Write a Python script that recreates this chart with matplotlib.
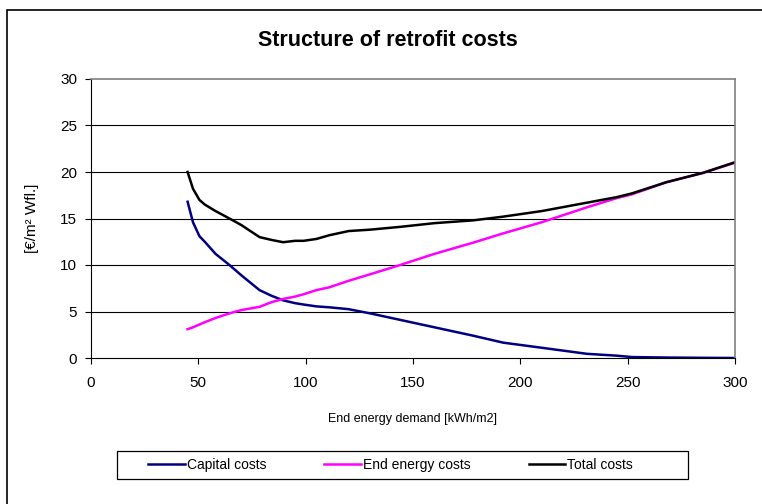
import matplotlib.pyplot as plt
from matplotlib.patches import Rectangle

plt.rcParams["font.family"] = ["Liberation Sans", "DejaVu Sans"]

# end energy demand [kWh/m2]
demand = [45, 47.5, 50.5, 53, 58, 64.5, 70, 78.5, 84, 89.5, 95, 99, 105, 111,
          120, 130, 144, 160, 178, 192, 210, 231, 245, 252, 268, 285, 300]

capital_costs = [16.8, 14.6, 13.1, 12.5, 11.2, 10.0, 8.9, 7.3, 6.7, 6.2, 5.9,
                 5.75, 5.55, 5.45, 5.25, 4.8, 4.1, 3.3, 2.4, 1.65, 1.1, 0.45,
                 0.25, 0.1, 0.05, 0.02, 0.0]
end_energy_costs = [3.1, 3.3, 3.6, 3.85, 4.3, 4.8, 5.15, 5.5, 6.0, 6.35, 6.6,
                    6.85, 7.3, 7.6, 8.3, 9.0, 10.0, 11.2, 12.4, 13.4, 14.6,
                    16.2, 17.2, 17.6, 18.9, 19.9, 21.0]
total_costs = [20.0, 18.2, 17.0, 16.5, 15.8, 15.0, 14.3, 13.0, 12.7, 12.45,
               12.6, 12.6, 12.8, 13.2, 13.65, 13.8, 14.1, 14.5, 14.8, 15.2,
               15.8, 16.7, 17.3, 17.7, 18.9, 19.9, 21.05]

W, H = 762, 504
fig = plt.figure(figsize=(W / 100, H / 100), dpi=100)
ax = fig.add_axes([91 / W, 1 - 358 / H, (735 - 91) / W, (358 - 79) / H])

# outer chart frame (only left and top edges fall inside the picture)
fig.patches.append(Rectangle((7 / W, -0.05), 1.1, 1 - 10 / H + 0.05,
                             transform=fig.transFigure, fill=False,
                             edgecolor="black", linewidth=1.2))

ax.plot(demand, capital_costs, color="#000080", linewidth=1.8, label="Capital costs")
ax.plot(demand, end_energy_costs, color="#FF00FF", linewidth=1.8, label="End energy costs")
ax.plot(demand, total_costs, color="black", linewidth=1.8, label="Total costs")

ax.set_xlim(0, 300)
ax.set_ylim(0, 30)
ax.set_xticks(range(0, 301, 50))
ax.set_yticks(range(0, 31, 5))
ax.tick_params(direction="out", length=4, labelsize=11)
ax.tick_params(axis="x", pad=9)
ax.tick_params(axis="y", pad=6)
for y in range(5, 30, 5):
    ax.axhline(y, color="black", linewidth=0.8, zorder=0)

ax.spines["top"].set_color("#808080")
ax.spines["right"].set_color("#808080")
ax.spines["top"].set_linewidth(1.2)
ax.spines["right"].set_linewidth(1.2)

ax.set_xlabel("End energy demand [kWh/m2]", fontsize=9)
ax.xaxis.set_label_coords(0.5, (358 - 413) / 279)
ax.set_ylabel("[€/m² Wfl.]", fontsize=11)
ax.yaxis.set_label_coords((39 - 91) / 644, 0.5)
fig.text(388 / W, 1 - 41 / H, "Structure of retrofit costs",
         ha="center", va="center", fontsize=15.5, fontweight="bold")

# legend box drawn separately, Excel-like uneven padding
fig.patches.append(Rectangle((117 / W, 1 - 479 / H), (688 - 117) / W, 28 / H,
                             transform=fig.transFigure, fill=False,
                             edgecolor="black", linewidth=0.9))
fig.legend(loc="center", bbox_to_anchor=(390.5 / W, 1 - 465 / H), ncol=3,
           fontsize=10, frameon=False, handlelength=2.6, handletextpad=0.15,
           columnspacing=4.2, borderpad=0)

fig.savefig("out.png", dpi=100)
